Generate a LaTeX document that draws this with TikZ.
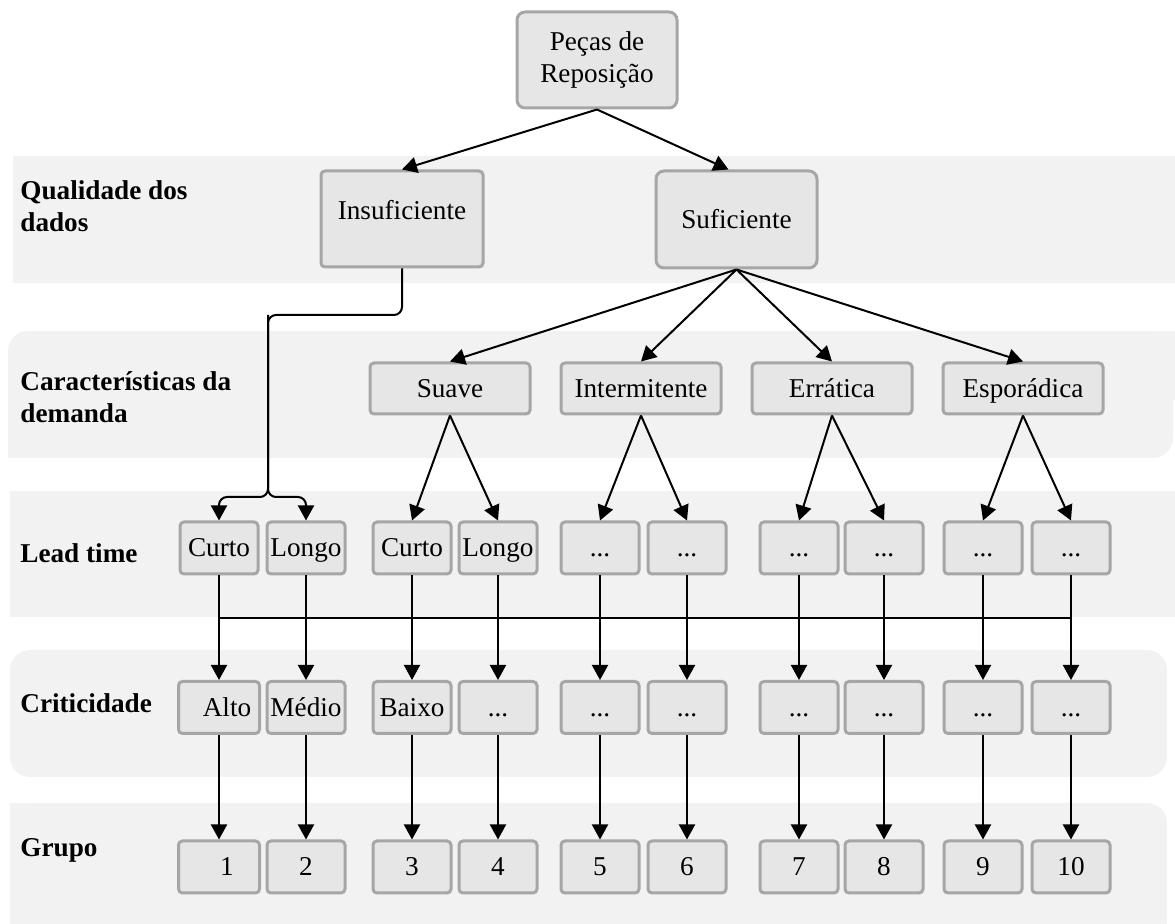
\documentclass[tikz,border=0pt]{standalone}
\usepackage{fontspec}
\setmainfont{Liberation Serif}
\usetikzlibrary{arrows.meta}
\definecolor{bandfill}{HTML}{F2F2F2}
\definecolor{boxfill}{HTML}{E6E6E6}
\definecolor{boxline}{HTML}{A6A6A6}
\newcommand\dfont{\fontsize{13.6}{16}\selectfont}
\begin{document}
\begin{tikzpicture}[x=0.5pt,y=-0.5pt,
  band/.style={fill=bandfill},
  box/.style={draw=boxline, fill=boxfill, line width=1.5pt, rounded corners=2pt,
    inner sep=0pt, font=\dfont, align=center},
  oneline/.style={text height=12pt, text depth=3pt},
  bigbox/.style={box, minimum width=80pt, minimum height=48pt, rounded corners=4pt},
  catbox/.style={box, oneline, minimum width=80pt, minimum height=25.5pt},
  smallbox/.style={box, oneline, minimum width=39pt, minimum height=26pt},
  lab/.style={anchor=west, align=left, inner sep=0pt, font=\dfont\bfseries},
  conn/.style={line width=1pt, black},
  arr/.style={conn, -{Triangle[length=7.5pt,width=8pt]}},
]
\useasboundingbox (0,0) rectangle (1175,924);

% background bands, one per level
\fill[band] (13,156) rectangle (1175,283);
\fill[band, rounded corners=10pt] (8,331) rectangle (1173,458);
\fill[band] (600,331) rectangle (1175,400);
\fill[band] (8,400) rectangle (600,458);
\fill[band] (10,491) rectangle (1175,617);
\fill[band, rounded corners=10pt] (10,650) rectangle (1167,777);
\fill[band, rounded corners=10pt] (10,803) rectangle (1167,940);
\fill[band] (10,803) rectangle (600,924);
\fill[band] (600,860) rectangle (1167,924);

% level labels
\node[lab] (labQ) at (20,206) {Qualidade dos\\dados};
\node[lab] (labC) at (20,397) {Características da\\demanda};
\node[lab] (labL) at (20,553) {Lead time};
\node[lab] (labK) at (20,703) {Criticidade};
\node[lab] (labG) at (20,850) {Grupo};

% top levels
\node[bigbox] (top) at (597,60) {Peças de\\Reposição};
\node[bigbox, oneline, minimum width=81pt, rounded corners=2pt, text depth=11pt] (ins) at (402,219) {Insuficiente};
\node[bigbox, oneline, minimum width=80.5pt, minimum height=48.5pt] (suf) at (736.5,219.5) {Suficiente};

% demand characteristics
\node[catbox] (sua) at (450,388.5) {Suave};
\node[catbox] (int) at (641,388.5) {Intermitente};
\node[catbox] (err) at (832,388.5) {Errática};
\node[catbox] (esp) at (1023,388.5) {Esporádica};

% lead time
\node[smallbox] (l1)  at (219,548) {Curto};
\node[smallbox] (l2)  at (306,548) {Longo};
\node[smallbox] (l3)  at (412,548) {Curto};
\node[smallbox] (l4)  at (498,548) {Longo};
\node[smallbox] (l5)  at (600,548) {...};
\node[smallbox] (l6)  at (687,548) {...};
\node[smallbox] (l7)  at (799,548) {...};
\node[smallbox] (l8)  at (884,548) {...};
\node[smallbox] (l9)  at (983,548) {...};
\node[smallbox] (l10) at (1071,548) {...};

% criticality
\node[smallbox, minimum width=40.5pt] (c1) at (219,707.5) {\hspace{8pt}Alto};
\node[smallbox] (c2)  at (306,707.5) {Médio};
\node[smallbox] (c3)  at (412,707.5) {Baixo};
\node[smallbox] (c4)  at (498,707.5) {...};
\node[smallbox] (c5)  at (600,707.5) {...};
\node[smallbox] (c6)  at (687,707.5) {...};
\node[smallbox] (c7)  at (799,707.5) {...};
\node[smallbox] (c8)  at (884,707.5) {...};
\node[smallbox] (c9)  at (983,707.5) {...};
\node[smallbox] (c10) at (1071,707.5) {...};

% groups
\node[smallbox, minimum width=40.5pt] (g1) at (219,867) {\hspace{8pt}1};
\node[smallbox] (g2)  at (306,867) {2};
\node[smallbox] (g3)  at (412,867) {3};
\node[smallbox] (g4)  at (498,867) {4};
\node[smallbox] (g5)  at (600,867) {5};
\node[smallbox] (g6)  at (687,867) {6};
\node[smallbox] (g7)  at (799,867) {7};
\node[smallbox] (g8)  at (884,867) {8};
\node[smallbox] (g9)  at (983,867) {9};
\node[smallbox] (g10) at (1071,867) {10};

% connectors
\draw[arr] (top.south) -- (ins.north);
\draw[arr] (top.south) -- ([xshift=-4pt]suf.north);

\foreach \t in {sua,int,err,esp}
  \draw[arr] (suf.south) -- (\t.north);

\draw[arr] (sua.south) -- (l3.north);
\draw[arr] (sua.south) -- (l4.north);
\draw[arr] (int.south) -- (l5.north);
\draw[arr] (int.south) -- (l6.north);
\draw[arr] (err.south) -- (l7.north);
\draw[arr] (err.south) -- (l8.north);
\draw[arr] (esp.south) -- (l9.north);
\draw[arr] (esp.south) -- (l10.north);

\coordinate (jA) at (268,315);
\coordinate (jB) at (268,497);
\draw[arr, rounded corners=4pt] (ins.south) |- (jA) -- (jB) -| (l1.north);
\draw[arr, rounded corners=4pt] (jA) -- (jB) -| (l2.north);

\coordinate (barL) at (219,618);
\coordinate (barR) at (1071,618);
\draw[conn] (barL) -- (barR);

\foreach \i in {1,...,10} {
  \draw[arr] (l\i.south) -- (c\i.north);
  \draw[arr] (c\i.south) -- (g\i.north);
}
\end{tikzpicture}
\end{document}
